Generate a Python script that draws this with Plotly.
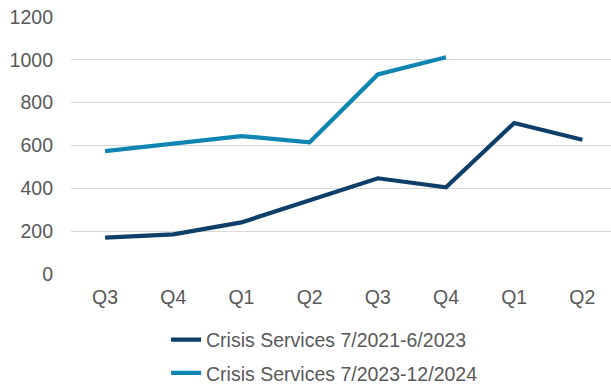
import plotly.graph_objects as go

quarters = ["Q3", "Q4", "Q1", "Q2", "Q3", "Q4", "Q1", "Q2"]
positions = list(range(len(quarters)))

series_2021_name = "Crisis Services 7/2021-6/2023"
series_2021 = [170, 185, 241, 345, 447, 405, 705, 627]

series_2023_name = "Crisis Services 7/2023-12/2024"
series_2023 = [574, 608, 644, 615, 932, 1012]

y_ticks = [0, 200, 400, 600, 800, 1000, 1200]

fig = go.Figure()
fig.add_trace(go.Scatter(
    x=positions, y=series_2021, mode="lines", name=series_2021_name,
    legendgroup="a",
    line=dict(color="#0E3F69", width=4.2),
))
fig.add_trace(go.Scatter(
    x=positions[:len(series_2023)], y=series_2023, mode="lines", name=series_2023_name,
    legendgroup="b",
    line=dict(color="#0F86B2", width=4.2),
))

font = dict(family="Liberation Sans, Arial, sans-serif", size=19.5, color="#595959")

fig.update_layout(
    width=611, height=386,
    margin=dict(l=71, r=0, t=17, b=112, autoexpand=False),
    paper_bgcolor="white", plot_bgcolor="white",
    font=font,
    showlegend=True,
    legend=dict(
        orientation="v", x=0.176, xanchor="left",
        yref="container", y=0.17, yanchor="top",
        font=font, itemwidth=30, tracegroupgap=5, traceorder="grouped",
        bgcolor="rgba(0,0,0,0)",
    ),
    xaxis=dict(
        tickmode="array", tickvals=positions, ticktext=quarters,
        range=[-0.5, 7.42], showgrid=False, zeroline=False,
        showline=False, ticks="", ticklabelstandoff=9,
    ),
    yaxis=dict(
        range=[0, 1200], tickvals=y_ticks, showgrid=True,
        gridcolor="#D9D9D9", gridwidth=1.3, zeroline=False,
        showline=False, ticks="", ticklabelstandoff=17,
    ),
)

fig.write_html("out.html")
